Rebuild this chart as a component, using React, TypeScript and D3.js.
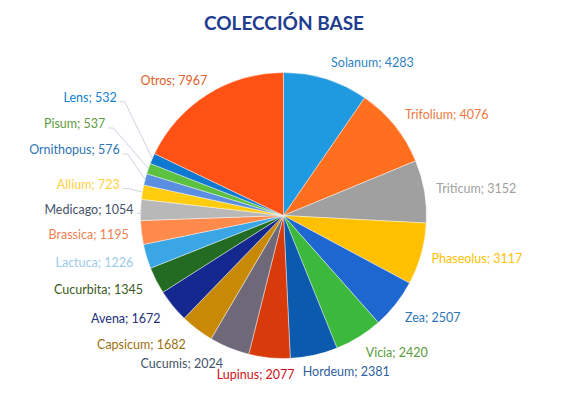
import React from "react";
import * as d3 from "d3";

const categories = [
  "Solanum", "Trifolium", "Triticum", "Phaseolus", "Zea", "Vicia", "Hordeum",
  "Lupinus", "Cucumis", "Capsicum", "Avena", "Cucurbita", "Lactuca", "Brassica",
  "Medicago", "Allium", "Ornithopus", "Pisum", "Lens", "Otros",
];
const values = [
  4283, 4076, 3152, 3117, 2507, 2420, 2381, 2077, 2024, 1682, 1672, 1345, 1226,
  1195, 1054, 723, 576, 537, 532, 7967,
];
const sliceColors = [
  "#1f9ae0", "#ff6f1e", "#a0a0a0", "#ffc000", "#1e66d0", "#3cb83c", "#0b5aad",
  "#d93a0c", "#6e6878", "#c88a06", "#14288f", "#236b22", "#3aa6e6", "#ff8a4c",
  "#b8b8b8", "#ffcc10", "#5a8ee0", "#5cc040", "#0f78d0", "#ff5214",
];
const labelColors = [
  "#2f84c6", "#f07840", "#a0a0a0", "#ffc000", "#2e75b6", "#5a9a3a", "#2f5f9e",
  "#d01020", "#44546a", "#9a7010", "#1f2f7a", "#3a5a22", "#9ccbea", "#f08050",
  "#44546a", "#ffd040", "#2e75b6", "#5f9a40", "#1480d0", "#e0602a",
];
const title = "COLECCIÓN BASE";

// layout tweaks for labels Excel moved (dx, dy in px), and which get leader lines
const labelNudge: Record<string, [number, number]> = {
  Trifolium: [-3, 0],
  Triticum: [-5, 0],
  Phaseolus: [-6, 0],
  Zea: [-4, 3],
  Vicia: [-2, 1],
  Hordeum: [-15, 0],
  Lupinus: [-12, 0],
  Capsicum: [-1, 2],
  Avena: [1, 2],
  Cucurbita: [2, 1],
  Lactuca: [3, 1],
  Brassica: [4, 0],
  Medicago: [10, 0],
  Allium: [-6, -5],
  Ornithopus: [-9, -25],
  Pisum: [-27, -39],
  Lens: [-20, -54],
  Otros: [9, 1],
};
const leaders = ["Medicago", "Allium", "Ornithopus", "Pisum", "Lens"];

export default function App() {
  const W = 568, H = 395;
  const cx = 283.5, cy = 215.5, R = 143, LR = 160;
  const data = categories.map((c, i) => ({ name: c, value: values[i], i }));
  const pie = d3.pie<any>().sort(null).value((d) => d.value);
  const arcs = pie(data);
  const arc = d3.arc<any>().innerRadius(0).outerRadius(R);

  return (
    <svg width={W} height={H} style={{ position: "absolute", left: 0, top: 0, background: "#fff" }}>
      <text x={284} y={30} textAnchor="middle" fontFamily="Lato, 'Open Sans', sans-serif"
        fontWeight={700} fontSize={19} fill="#1f3d8f">{title}</text>
      <g transform={`translate(${cx},${cy})`}>
        {arcs.map((a) => (
          <path key={a.data.name} d={arc(a) as string} fill={sliceColors[a.data.i]}
            stroke="#ffffff" strokeWidth={0.6} strokeOpacity={0.7} />
        ))}
      </g>
      {arcs.map((a) => {
        const mid = (a.startAngle + a.endAngle) / 2;
        const s = Math.sin(mid), c = Math.cos(mid);
        const [ndx, ndy] = labelNudge[a.data.name] || [0, 0];
        const x = cx + LR * s + ndx;
        const y = cy - LR * c + ndy;
        const anchor = s > 0.15 ? "start" : s < -0.15 ? "end" : "middle";
        const isLeader = leaders.includes(a.data.name);
        let line = null;
        if (isLeader) {
          const ex = cx + R * s, ey = cy - R * c;
          const sx = x + 3, sy = y + 4;
          line = (
            <polyline points={`${sx},${sy} ${sx + 5},${sy} ${ex},${ey}`} fill="none"
              stroke="#c5cedb" strokeWidth={0.9} />
          );
        }
        return (
          <g key={a.data.name}>
            {line}
            <text x={x} y={y} dy="0.35em" textAnchor={anchor}
              fontFamily="Lato, 'Open Sans', sans-serif" fontSize={12.5}
              fill={labelColors[a.data.i]}>
              {`${a.data.name}; ${a.data.value}`}
            </text>
          </g>
        );
      })}
    </svg>
  );
}
